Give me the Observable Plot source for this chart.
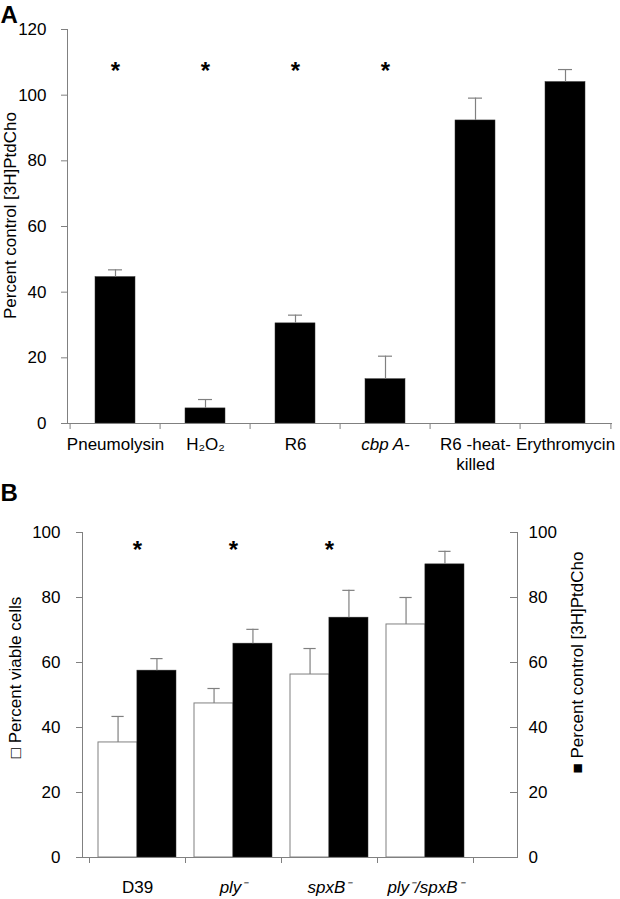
<!DOCTYPE html>
<html>
<head>
<meta charset="utf-8">
<script src="https://cdn.jsdelivr.net/npm/d3@7"></script>
<script src="https://cdn.jsdelivr.net/npm/@observablehq/plot@0.6"></script>
<style>
  html, body { margin: 0; padding: 0; background: white; }
  #chart svg { display: block; }
</style>
</head>
<body>
<div id="chart"></div>
<script>
// ---------- Panel A data ----------
const catsA = ["Pneumolysin", "H₂O₂", "R6", "cbp A-", "R6 -heat-\nkilled", "Erythromycin"];
const valuesA = [44.6, 4.6, 30.5, 13.5, 92.3, 104];
const errorsA = [2.2, 2.7, 2.5, 7.0, 6.8, 3.8];
const italicA = [false, false, false, true, false, false];
const sigA = [true, true, true, true, false, false];
const starA = 109;
const ticksA = [0, 20, 40, 60, 80, 100, 120];
const yLabelA = "Percent control [3H]PtdCho";

// ---------- Panel B data ----------
const catsB = ["D39", "ply⁻", "spxB⁻", "ply⁻/spxB⁻"];
const viableB = [35.4, 47.4, 56.3, 71.7];
const viableErrB = [8.0, 4.6, 8.0, 8.3];
const ptdB = [57.5, 65.8, 73.8, 90.2];
const ptdErrB = [3.7, 4.4, 8.4, 4.0];
const italicB = [false, true, true, true];
const sigB = [true, true, true, false];
const starB = 96.3;
const ticksB = [0, 20, 40, 60, 80, 100];
const yLabelB = "□ Percent viable cells";
const y2LabelB = "■ Percent control [3H]PtdCho";

const grey = "#808080";
const font = "'Liberation Sans', Arial, sans-serif";

const dataA = catsA.map((cat, i) => ({cat, value: valuesA[i], err: errorsA[i], italic: italicA[i], sig: sigA[i]}));
const dataB = catsB.map((cat, i) => ({cat, viable: viableB[i], vErr: viableErrB[i], ptd: ptdB[i], pErr: ptdErrB[i], italic: italicB[i], sig: sigB[i]}));

// ---------- Panel A ----------
const wA = 620, hA = 480, mlA = 67, mrA = 8, mtA = 29, mbA = 57;
const stepA = (wA - mlA - mrA) / catsA.length;
const plotA = Plot.plot({
  width: wA, height: hA,
  marginLeft: mlA, marginRight: mrA, marginTop: mtA, marginBottom: mbA,
  style: {fontFamily: font, fontSize: "16px", background: "white", color: "black"},
  x: {domain: catsA, paddingInner: 0.56, paddingOuter: 0.28, label: null},
  y: {domain: [0, 120], label: null},
  marks: [
    Plot.barY(dataA, {x: "cat", y: "value", fill: "black", stroke: "#333", strokeWidth: 0.5}),
    Plot.ruleX(dataA, {x: "cat", y1: "value", y2: d => d.value + d.err, stroke: grey, strokeWidth: 1.2}),
    Plot.tickY(dataA, {x: "cat", y: d => d.value + d.err, stroke: grey, strokeWidth: 1.2, insetLeft: 13, insetRight: 13}),
    Plot.ruleY([0], {stroke: grey}),
    Plot.frame({anchor: "left", stroke: grey}),
    Plot.axisY({ticks: ticksA, tickSize: 6, tickPadding: 15, stroke: grey, fontSize: 17, label: null}),
    Plot.axisX({tickSize: 6, tickFormat: () => "", dx: -stepA / 2, stroke: grey, label: null}),
    Plot.axisX({ticks: [catsA[catsA.length - 1]], tickSize: 6, tickFormat: () => "", dx: stepA / 2, stroke: grey, label: null}),
    Plot.text(dataA.filter(d => !d.italic), {x: "cat", text: "cat", frameAnchor: "bottom", lineAnchor: "top", dy: 13, fontSize: 17, lineHeight: 1.15}),
    Plot.text(dataA.filter(d => d.italic), {x: "cat", text: "cat", frameAnchor: "bottom", lineAnchor: "top", dy: 13, fontSize: 17, fontStyle: "italic", lineHeight: 1.15}),
    Plot.text(dataA.filter(d => d.sig), {x: "cat", y: () => starA, text: () => "*", fontSize: 24, fontWeight: "bold", dy: 6}),
    Plot.text(["A"], {frameAnchor: "top-left", dx: -mlA, dy: -mtA + 5, textAnchor: "start", lineAnchor: "top", fontSize: 24, fontWeight: "bold"}),
    Plot.text([yLabelA], {frameAnchor: "left", textAnchor: "middle", lineAnchor: "middle", rotate: -90, dx: -57, dy: -11, fontSize: 17})
  ]
});

// ---------- Panel B ----------
const wB = 620, hB = 419, mlB = 82, mrB = 103, mtB = 52, mbB = 42;
const xRangeB = [88.5, 472.5];
const stepB = (xRangeB[1] - xRangeB[0]) / catsB.length;
const padB = 0.19;
const bwB = stepB * (1 - padB);
const half = bwB / 2;
const capW = 12;
const plotB = Plot.plot({
  width: wB, height: hB,
  marginLeft: mlB, marginRight: mrB, marginTop: mtB, marginBottom: mbB,
  style: {fontFamily: font, fontSize: "16px", background: "white", color: "black"},
  x: {domain: catsB, range: xRangeB, paddingInner: padB, paddingOuter: padB / 2, label: null},
  y: {domain: [0, 100], label: null},
  marks: [
    Plot.barY(dataB, {x: "cat", y: "viable", fill: "white", stroke: grey, insetRight: half}),
    Plot.barY(dataB, {x: "cat", y: "ptd", fill: "black", stroke: "#333", strokeWidth: 0.5, insetLeft: half}),
    Plot.ruleX(dataB, {x: "cat", y1: "viable", y2: d => d.viable + d.vErr, dx: -half / 2, stroke: grey, strokeWidth: 1.2}),
    Plot.ruleX(dataB, {x: "cat", y1: "ptd", y2: d => d.ptd + d.pErr, dx: half / 2, stroke: grey, strokeWidth: 1.2}),
    Plot.tickY(dataB, {x: "cat", y: d => d.viable + d.vErr, stroke: grey, strokeWidth: 1.2, insetLeft: half / 2 - capW / 2, insetRight: bwB - half / 2 - capW / 2}),
    Plot.tickY(dataB, {x: "cat", y: d => d.ptd + d.pErr, stroke: grey, strokeWidth: 1.2, insetLeft: bwB - half / 2 - capW / 2, insetRight: half / 2 - capW / 2}),
    Plot.ruleY([0], {stroke: grey}),
    Plot.frame({anchor: "left", stroke: grey}),
    Plot.frame({anchor: "right", stroke: grey}),
    Plot.axisY({ticks: ticksB, tickSize: 6, tickPadding: 16, stroke: grey, fontSize: 17, label: null}),
    Plot.axisY({anchor: "right", ticks: ticksB, tickSize: 0, tickPadding: 11, fontSize: 17, label: null}),
    Plot.axisY({anchor: "right", ticks: ticksB, tickSize: 8, dx: -8, tickFormat: () => "", stroke: grey, label: null}),
    Plot.axisX({tickSize: 6, tickFormat: () => "", dx: -stepB / 2, stroke: grey, label: null}),
    Plot.axisX({ticks: [catsB[catsB.length - 1]], tickSize: 6, tickFormat: () => "", dx: stepB / 2, stroke: grey, label: null}),
    Plot.text(dataB.filter(d => !d.italic), {x: "cat", text: "cat", frameAnchor: "bottom", lineAnchor: "top", dy: 23, fontSize: 17}),
    Plot.text(dataB.filter(d => d.italic), {x: "cat", text: "cat", frameAnchor: "bottom", lineAnchor: "top", dy: 23, fontSize: 17, fontStyle: "italic"}),
    Plot.text(dataB.filter(d => d.sig), {x: "cat", y: () => starB, text: () => "*", fontSize: 24, fontWeight: "bold", dy: 6}),
    Plot.text(["B"], {frameAnchor: "top-left", dx: -mlB, dy: -mtB + 3, textAnchor: "start", lineAnchor: "top", fontSize: 24, fontWeight: "bold"}),
    Plot.text([yLabelB], {frameAnchor: "left", textAnchor: "middle", lineAnchor: "middle", rotate: -90, dx: -67, dy: -17.5, fontSize: 17}),
    Plot.text([y2LabelB], {frameAnchor: "right", textAnchor: "middle", lineAnchor: "middle", rotate: -90, dx: 60, dy: -32.5, fontSize: 17})
  ]
});

const chart = document.getElementById("chart");
chart.appendChild(plotA);
chart.appendChild(plotB);
</script>
</body>
</html>
